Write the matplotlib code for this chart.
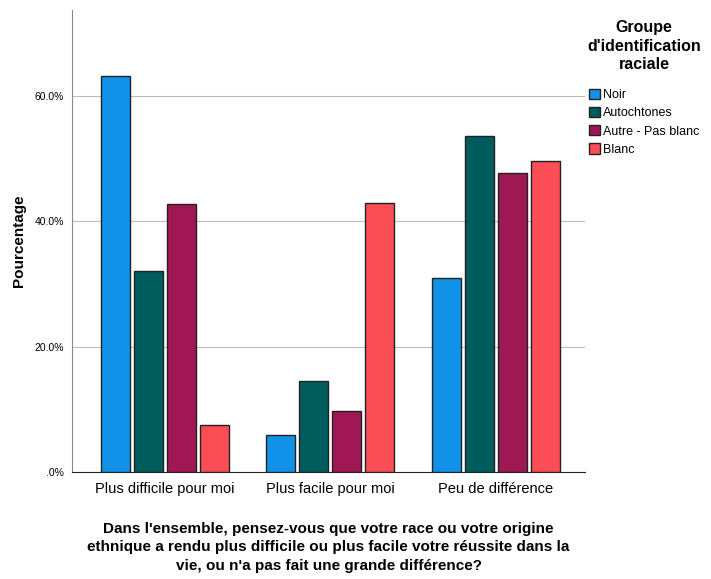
import numpy as np
import matplotlib
matplotlib.use("Agg")
import matplotlib.pyplot as plt
import matplotlib.patches as mpatches
from matplotlib.ticker import FuncFormatter

plt.rcParams['font.family'] = ['Liberation Sans', 'DejaVu Sans']

# data
categories = ["Plus difficile pour moi", "Plus facile pour moi", "Peu de différence"]
groups = ["Noir", "Autochtones", "Autre - Pas blanc", "Blanc"]
noir = [63.2, 5.9, 31.0]
autochtones = [32.1, 14.5, 53.6]
autre = [42.8, 9.7, 47.6]
blanc = [7.5, 42.9, 49.6]
colors = ["#1192e8", "#005d5d", "#9f1853", "#fa4d56"]

fig = plt.figure(figsize=(7.11, 5.79), dpi=100)
ax = fig.add_axes([0.1013, 0.185, 0.7217, 0.798])

x = np.arange(len(categories))
width = 0.175
step = 0.2
series = [noir, autochtones, autre, blanc]
for i, (vals, col, name) in enumerate(zip(series, colors, groups)):
    ax.bar(x + (i - 1.5) * step, vals, width, color=col, edgecolor='#222222',
           linewidth=1.0, label=name, zorder=3)

ax.set_xlim(-0.56, 2.54)
ax.set_ylim(0, 73.7)
ax.set_yticks([0, 20, 40, 60])
ax.yaxis.set_major_formatter(FuncFormatter(lambda v, p: ".0%" if v == 0 else f"{v:.1f}%"))
ax.grid(axis='y', color='#bbbbbb', linewidth=0.8, zorder=0)
ax.set_xticks(x)
ax.set_xticklabels(categories, fontsize=10.5)
ax.tick_params(axis='both', length=0)
ax.tick_params(axis='y', labelsize=7.5, pad=6)
ax.tick_params(axis='x', pad=7)

for s in ['top', 'right']:
    ax.spines[s].set_visible(False)
ax.spines['left'].set_color('#888888')
ax.spines['bottom'].set_color('#222222')

ax.set_ylabel("Pourcentage", fontsize=11, fontweight='bold', labelpad=6)
ax.set_xlabel("Dans l'ensemble, pensez-vous que votre race ou votre origine\n"
              "ethnique a rendu plus difficile ou plus facile votre réussite dans la\n"
              "vie, ou n'a pas fait une grande différence?",
              fontsize=11, fontweight='bold', labelpad=19, linespacing=1.4)

handles = [mpatches.Patch(facecolor=c, edgecolor='#222222', label=g) for c, g in zip(colors, groups)]
leg = fig.legend(handles=handles, title="Groupe\nd'identification\nraciale",
                 loc='upper left', bbox_to_anchor=(0.81, 0.985), frameon=False,
                 fontsize=9, title_fontproperties={'weight': 'bold', 'size': 11.5},
                 handlelength=0.9, handleheight=0.9, handletextpad=0.2, labelspacing=0.45)
leg._legend_box.align = "center"
leg.get_title().set_multialignment('center')
leg.get_title().set_linespacing(1.3)
leg._legend_box.sep = 12

fig.savefig("out.png", dpi=100)
